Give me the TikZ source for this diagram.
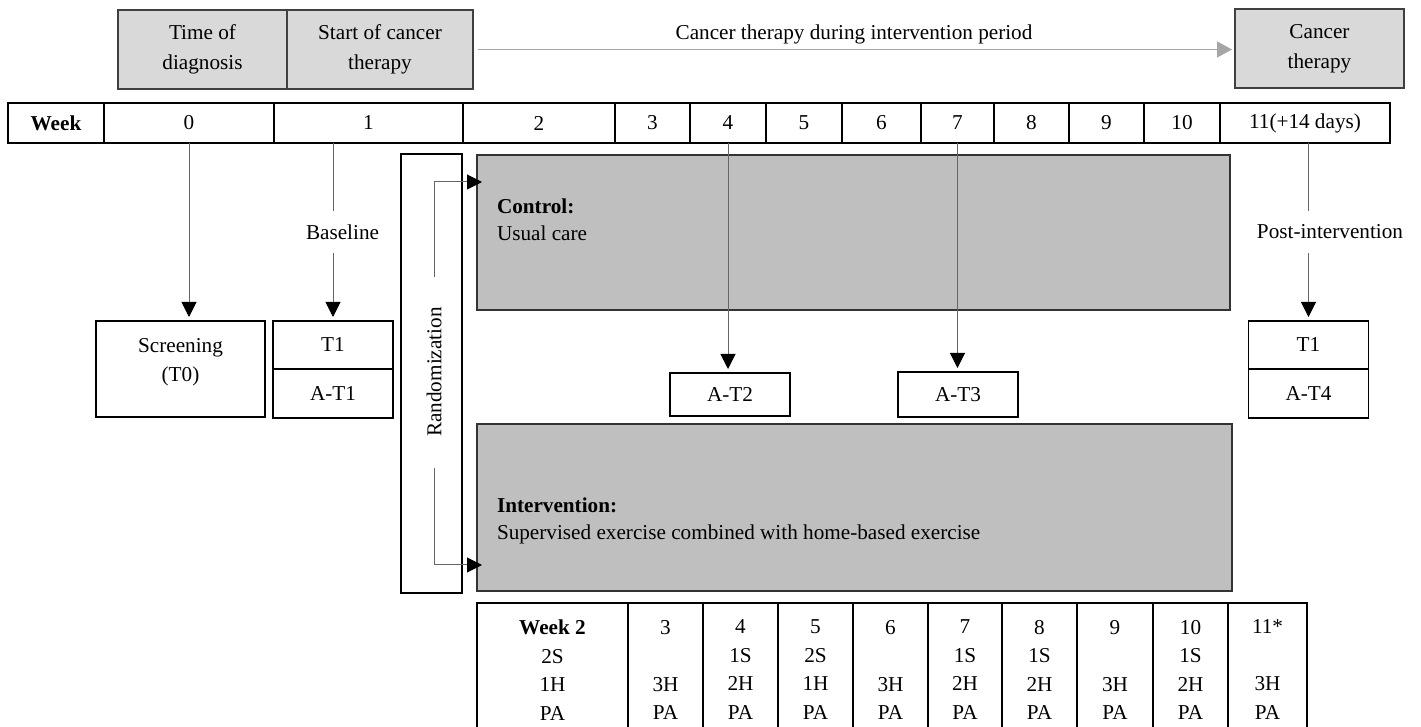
\documentclass[tikz,border=0pt]{standalone}
\usepackage{fontspec}
\setmainfont{Liberation Serif}
\usetikzlibrary{arrows.meta, positioning}

\begin{document}
\begin{tikzpicture}[
x=0.5pt, y=-0.5pt,
font=\fontsize{10.6}{13.5}\selectfont,
every node/.style={inner sep=0pt, outer sep=0pt},
phase/.style={draw=black!75, line width=0.6pt, fill=black!15, align=center, font=\fontsize{10.6}{15}\selectfont, minimum height=39.5pt},
weekcell/.style={draw, line width=1pt, minimum height=20pt},
mbox/.style={draw, line width=0.6pt, fill=white, minimum width=60pt},
arm/.style={draw=black!80, line width=0.6pt, fill=black!25},
tcell/.style={draw, line width=0.6pt, anchor=north, minimum height=70pt},
gaplbl/.style={inner xsep=2pt, inner ysep=7pt},
conn/.style={black!60, line width=0.5pt, -{Triangle[width=7.5pt,length=7.5pt,black]}, shorten >=2pt},
rconn/.style={black!60, line width=0.5pt, -{Triangle[width=7.5pt,length=7.5pt,black]}, shorten >=-2.5pt},
]

\useasboundingbox (0,0) rectangle (1421,727);

% phases of therapy
\node (diag) [phase, minimum width=84.5pt] at (202.5,49.5) {Time of\\diagnosis};
\node (start) [phase, minimum width=93pt, right=0pt of diag] {Start of cancer\\therapy};
\node (ther) [phase, minimum width=84.5pt] at (1319.5,48.5) {Cancer\\therapy};
\draw[black!35, line width=0.75pt, -{Triangle[width=8pt,length=7.5pt]}, shorten <=2.5pt, shorten >=1.5pt]
  (start.east) -- node[above=2.5pt, text=black]{Cancer therapy during intervention period} (start.east -| ther.west);

% time line
\foreach \a/\b/\lab/\nm in {8/104/\textbf{Week}/wkW, 104/274/0/wk0, 274/463/1/wk1, 463/615/2/wk2,
  615/690/3/wk3, 690/766/4/wk4, 766/842/5/wk5, 842/921/6/wk6, 921/994/7/wk7, 994/1069/8/wk8,
  1069/1144/9/wk9, 1144/1220/10/wk10, 1220/1390/11(+14 days)/wk11}
{
  \pgfmathsetmacro\w{(\b-\a)/2}
  \node (\nm) [weekcell, minimum width=\w pt] at ({(\a+\b)/2},123) {\lab};
}

% measurements
\node (scr) [mbox, minimum width=84.5pt, minimum height=48pt] at (180.5,369) {};
\node (scrtxt) [below=8.5pt of scr.north, align=center, font=\fontsize{10.6}{14.5}\selectfont] {Screening\\(T0)};
\node (t1a) [mbox, minimum height=24pt] at (333,345) {T1};
\node (t1b) [mbox, minimum height=24.5pt, below=0pt of t1a] {A-T1};
\node (at2) [mbox, minimum height=21.5pt] at (730,394.5) {A-T2};
\node (at3) [mbox, minimum height=22.5pt] at (958,394.5) {A-T3};
\node (t4a) [mbox, minimum height=24pt] at (1308.5,345) {T1};
\node (t4b) [mbox, minimum height=24.5pt, below=0pt of t4a] {A-T4};

% randomization and arms
\node (rand) [draw, line width=0.6pt, minimum width=30.5pt, minimum height=219.5pt] at (431.5,373.5) {};
\node (randtxt) [rotate=90] at (434,372) {Randomization};
\node (ctrl) [arm, minimum width=376.5pt, minimum height=77.5pt] at (853.5,232.5) {};
\node (ctrltxt) [below right=21.75pt and 10pt of ctrl.north west, align=left] {\textbf{Control:}\\Usual care};
\node (intv) [arm, minimum width=377.5pt, minimum height=83.5pt] at (854.5,507.5) {};
\node (intvtxt) [below right=37pt and 10pt of intv.north west, align=left] {\textbf{Intervention:}\\Supervised exercise combined with home-based exercise};

\coordinate (ru) at (434,277);
\coordinate (rd) at (434,468);
\draw[rconn] (ru) |- ([yshift=-13.5pt]ctrl.north west);
\draw[rconn] (rd) |- ([yshift=13pt]intv.south west);

\node (base) [gaplbl] at (342.5,232) {Baseline};
\node (post) [gaplbl] at (1330,232) {Post-intervention};

\draw[conn] (wk0.south) -- (wk0.south |- scr.north);
\draw[black!60, line width=0.5pt] (t1a.north |- wk1.south) -- (t1a.north |- base.north);
\draw[conn] (t1a.north |- base.south) -- (t1a.north);
\draw[conn] (wk4.south) -- (wk4.south |- at2.north);
\draw[conn] (wk7.south) -- (wk7.south |- at3.north);
\draw[black!60, line width=0.5pt] (t4a.north |- wk11.south) -- (t4a.north |- post.north);
\draw[conn] (t4a.north |- post.south) -- (t4a.north);

% exercise schedule
\foreach \a/\b/\txt [count=\i] in {477/628/{\textbf{Week 2}\\2S\\1H\\PA}, 628/703/{3\\\mbox{}\\3H\\PA},
  703/778/{4\\1S\\2H\\PA}, 778/853/{5\\2S\\1H\\PA}, 853/928/{6\\\mbox{}\\3H\\PA},
  928/1002/{7\\1S\\2H\\PA}, 1002/1077/{8\\1S\\2H\\PA}, 1077/1153/{9\\\mbox{}\\3H\\PA},
  1153/1228/{10\\1S\\2H\\PA}, 1228/1307/{11*\\\mbox{}\\3H\\PA}}
{
  \pgfmathsetmacro\w{(\b-\a)/2}
  \node (tc\i) [tcell, minimum width=\w pt] at ({(\a+\b)/2},603) {};
  \node (tt\i) [below=8.5pt of tc\i.north, align=center, font=\fontsize{10.6}{14.25}\selectfont] {\txt};
}

\end{tikzpicture}
\end{document}
